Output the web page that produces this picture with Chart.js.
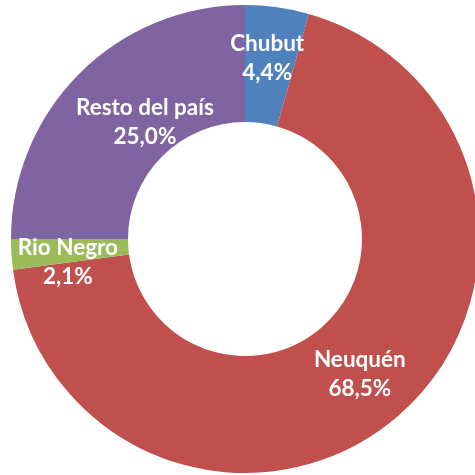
<!DOCTYPE html>
<html>
<head>
<meta charset="utf-8">
<script src="https://cdn.jsdelivr.net/npm/chart.js@4"></script>
<style>
  body { margin: 0; overflow: hidden; background: #fff; }
  #wrap { position: relative; width: 500px; height: 475px; }
</style>
</head>
<body>
<div id="wrap"><canvas id="chart"></canvas></div>
<script>
const regions = ['Chubut', 'Neuquén', 'Rio Negro', 'Resto del país'];
const shares = [4.4, 68.5, 2.1, 25.0];
const colors = ['#4F81BD', '#C0504D', '#9BBB59', '#8064A2'];

// white two-line labels inside each slice (Excel style)
// small nudges so labels sit where Excel put them
const nudge = [[-2, -7], [0, 3], [-2, 12], [24, 7]];

const sliceLabels = {
  id: 'sliceLabels',
  afterDatasetsDraw(chart) {
    const ctx = chart.ctx;
    const arcs = chart.getDatasetMeta(0).data;
    ctx.save();
    ctx.fillStyle = '#fff';
    ctx.font = 'bold 22.5px Lato';
    ctx.textAlign = 'center';
    ctx.textBaseline = 'middle';
    arcs.forEach((arc, i) => {
      const p = arc.tooltipPosition();
      const x = p.x + nudge[i][0];
      const y = p.y + nudge[i][1];
      const txt = shares[i].toFixed(1).replace('.', ',') + '%';
      ctx.fillText(regions[i], x, y - 14.5);
      ctx.fillText(txt, x, y + 14.5);
    });
    ctx.restore();
  }
};

new Chart(document.getElementById('chart'), {
  type: 'doughnut',
  data: {
    labels: regions,
    datasets: [{
      data: shares,
      backgroundColor: colors,
      borderWidth: 0
    }]
  },
  options: {
    responsive: true,
    maintainAspectRatio: false,
    animation: false,
    cutout: '50%',
    layout: { padding: { top: 5, bottom: 2, left: 11, right: 21 } },
    plugins: {
      legend: { display: false },
      tooltip: { enabled: false }
    }
  },
  plugins: [sliceLabels]
});
</script>
</body>
</html>
